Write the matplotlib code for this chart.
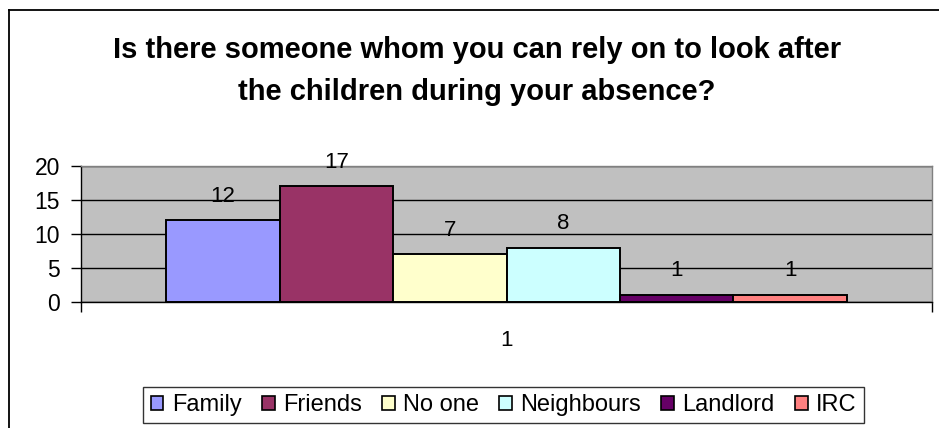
import matplotlib
matplotlib.use("Agg")
import matplotlib.pyplot as plt
from matplotlib.lines import Line2D
from matplotlib.patches import Patch

plt.rcParams['font.family'] = ['Liberation Sans', 'DejaVu Sans']

title = "Is there someone whom you can rely on to look after\nthe children during your absence?"
categories = ["Family", "Friends", "No one", "Neighbours", "Landlord", "IRC"]
values = [12, 17, 7, 8, 1, 1]
colors = ["#9999FF", "#993366", "#FFFFCC", "#CCFFFF", "#660066", "#FF8080"]
yticks = [0, 5, 10, 15, 20]
group_label = "1"

W, H = 939, 428
fig = plt.figure(figsize=(W / 100, H / 100), dpi=100)
fig.patch.set_facecolor("white")

# outer chart frame (left and top edges visible)
fig.add_artist(Line2D([9 / W, 9 / W], [0, 1 - 10 / H], transform=fig.transFigure,
                      color="black", lw=1.3))
fig.add_artist(Line2D([9 / W, 1], [1 - 10 / H, 1 - 10 / H], transform=fig.transFigure,
                      color="black", lw=1.3))

left, right, top, bottom = 81, 932, 166, 302
ax = fig.add_axes([left / W, 1 - bottom / H, (right - left) / W, (bottom - top) / H])
ax.set_facecolor("#C0C0C0")

n = len(values)
group_w = 0.8
bw = group_w / n
start = -group_w / 2 + bw / 2
for i, (cat, v, c) in enumerate(zip(categories, values, colors)):
    x = start + i * bw
    ax.bar(x, v, width=bw, color=c, edgecolor="black", linewidth=1.4, zorder=3, label=cat)
    ax.annotate(str(v), (x, v), xytext=(0, 10), textcoords="offset points",
                ha="center", va="bottom", fontsize=16, zorder=4)

ax.set_xlim(-0.5, 0.5)
ax.set_ylim(0, 20)
ax.set_yticks(yticks)
ax.set_yticklabels([str(t) for t in yticks], fontsize=16.5)
ax.yaxis.grid(True, color="black", lw=1.0, zorder=1)
ax.tick_params(axis="y", length=7, width=1, pad=8, direction="out")

ax.set_xticks([-0.5, 0.5])
ax.set_xticklabels(["", ""])
ax.tick_params(axis="x", which="major", length=7, width=1, direction="out")
ax.set_xticks([0], minor=True)
ax.set_xticklabels([group_label], minor=True, fontsize=16)
ax.tick_params(axis="x", which="minor", length=0, pad=20)

for s in ("left", "bottom"):
    ax.spines[s].set_color("black")
    ax.spines[s].set_linewidth(1.0)
for s in ("top", "right"):
    ax.spines[s].set_color("#808080")
    ax.spines[s].set_linewidth(1.0)

fig.text(477 / W, 1 - 71 / H, title, ha="center", va="center", fontsize=21,
         fontweight="bold", linespacing=1.62)

handles = [Patch(facecolor=c, edgecolor="black", linewidth=1.2) for c in colors]
leg = fig.legend(handles, categories, loc="center", bbox_to_anchor=(503.5 / W, 1 - 405 / H),
                 ncol=6, fontsize=17, frameon=True, fancybox=False, handlelength=0.55,
                 handleheight=0.55, handletextpad=0.35, columnspacing=0.85, borderpad=0.3,
                 borderaxespad=0)
leg.get_frame().set_edgecolor("black")
leg.get_frame().set_linewidth(1.0)

fig.savefig("out.png", dpi=100)
